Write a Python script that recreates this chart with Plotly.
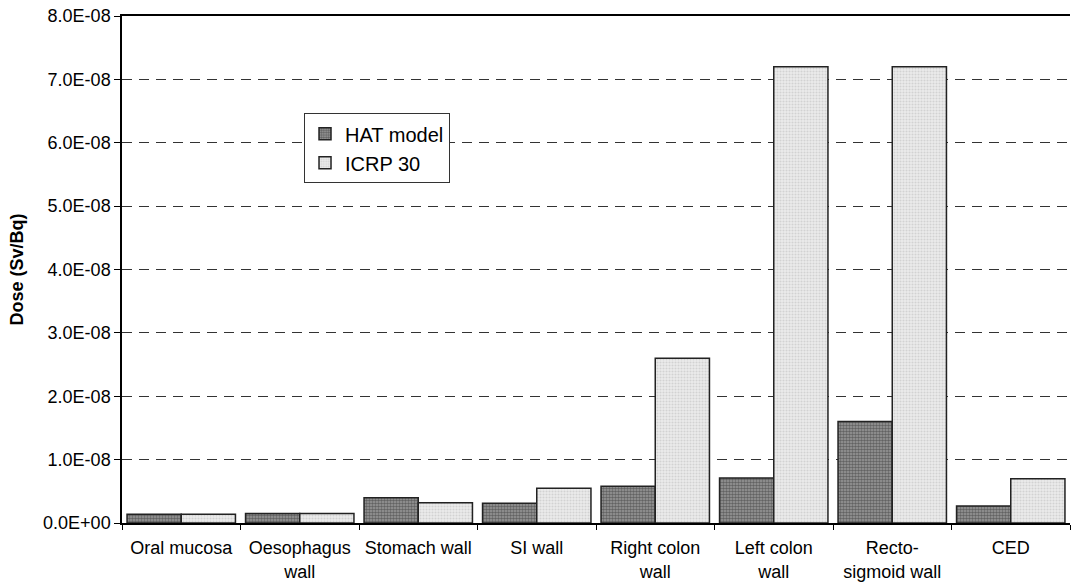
import plotly.graph_objects as go

categories = ["Oral mucosa", "Oesophagus<br>wall", "Stomach wall", "SI wall",
              "Right colon<br>wall", "Left colon<br>wall", "Recto-<br>sigmoid wall", "CED"]
hat_model = [1.4e-9, 1.5e-9, 4.0e-9, 3.1e-9, 5.8e-9, 7.1e-9, 1.6e-8, 2.7e-9]
icrp_30 = [1.4e-9, 1.5e-9, 3.2e-9, 5.5e-9, 2.6e-8, 7.2e-8, 7.2e-8, 7.0e-9]
y_tickvals = [0, 1e-8, 2e-8, 3e-8, 4e-8, 5e-8, 6e-8, 7e-8, 8e-8]
y_ticktext = ["0.0E+00", "1.0E-08", "2.0E-08", "3.0E-08", "4.0E-08",
              "5.0E-08", "6.0E-08", "7.0E-08", "8.0E-08"]

fig = go.Figure()
fig.add_trace(go.Bar(
    name="HAT model", x=categories, y=hat_model,
    marker=dict(color="#7a7a7a", line=dict(color="#222", width=1.5),
                pattern=dict(shape=".", fgcolor="#2a2a2a", bgcolor="#9a9a9a",
                             size=3, solidity=0.55)),
))
fig.add_trace(go.Bar(
    name="ICRP 30", x=categories, y=icrp_30,
    marker=dict(color="#dcdcdc", line=dict(color="#222", width=1.5),
                pattern=dict(shape=".", fgcolor="#b8b8b8", bgcolor="#ececec",
                             size=3, solidity=0.4)),
))

fig.update_layout(
    width=1071, height=584,
    margin=dict(l=122, r=1, t=16, b=61),
    paper_bgcolor="white", plot_bgcolor="white",
    barmode="group", bargap=0.085, bargroupgap=0,
    font=dict(family="Arial, Liberation Sans, sans-serif", color="black", size=18),
    showlegend=True,
    legend=dict(x=0.192, y=0.808, xanchor="left", yanchor="top",
                bgcolor="white", bordercolor="#333", borderwidth=1,
                font=dict(size=20), itemwidth=30, tracegroupgap=0),
)
fig.update_xaxes(
    showline=True, linecolor="black", linewidth=1.5, mirror=True,
    ticks="outside", tickson="boundaries", ticklen=5, tickcolor="black",
    tickfont=dict(size=18), showgrid=False, ticklabelstandoff=8,
)
fig.update_yaxes(
    range=[0, 8e-8], tickvals=y_tickvals, ticktext=y_ticktext,
    showline=True, linecolor="black", linewidth=1.5,
    ticks="outside", ticklen=6, tickcolor="black", tickfont=dict(size=18),
    showgrid=True, gridcolor="#333", gridwidth=1, griddash="10px,7px",
    zeroline=False,
    title=dict(text="<b>Dose (Sv/Bq)</b>", font=dict(size=18), standoff=15),
)
fig.write_html("out.html", config={"displayModeBar": False},
               post_script="document.body.style.margin='0';document.body.style.padding='0';")
